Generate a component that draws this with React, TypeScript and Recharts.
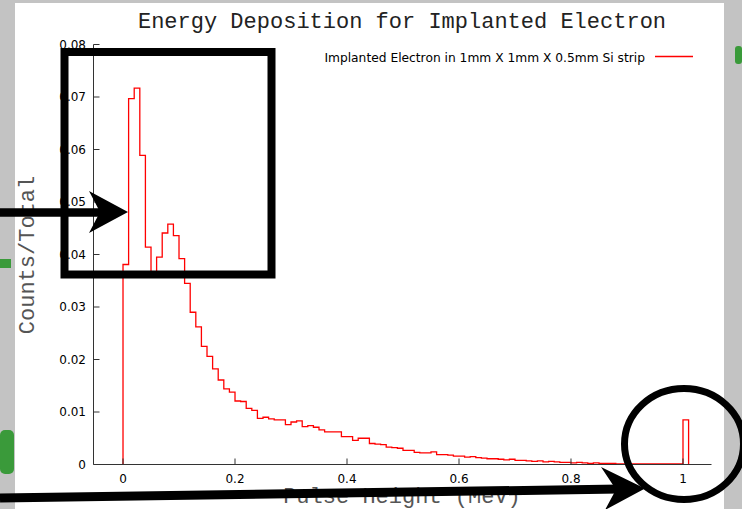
import { LineChart, Line, XAxis, YAxis } from 'recharts'

// energy bins are 0.01 MeV wide, value i belongs to [i*0.01, (i+1)*0.01)
const BIN_WIDTH = 0.01

const countsPerTotal = [
  0.0381, 0.0697, 0.0717, 0.0589, 0.0414, 0.0362, 0.0395, 0.0441, 0.0458, 0.0436,
  0.0392, 0.0345, 0.029, 0.0262, 0.0225, 0.0206, 0.0182, 0.0161, 0.0144, 0.0138,
  0.0121, 0.012, 0.0107, 0.0103, 0.0088, 0.009, 0.0087, 0.0085, 0.0085, 0.0076,
  0.0081, 0.0083, 0.0072, 0.0074, 0.0071, 0.0066, 0.0062, 0.0062, 0.0062, 0.0053,
  0.0053, 0.0046, 0.005, 0.005, 0.004, 0.0039, 0.0038, 0.0033, 0.0032, 0.0031,
  0.0027, 0.0027, 0.0023, 0.0022, 0.0022, 0.0024, 0.0019, 0.0019, 0.0018, 0.0016,
  0.0016, 0.0014, 0.0015, 0.0013, 0.0012, 0.0011, 0.0011, 0.001, 0.0009, 0.001,
  0.0008, 0.0008, 0.0007, 0.0006, 0.0007, 0.0005, 0.0006, 0.0005, 0.0004, 0.0004,
  0.0003, 0.0004, 0.0003, 0.0002, 0.0003, 0.0002, 0.0002, 0.0002, 0.0001, 0.0001,
  0.0001, 0.0001, 0.0001, 0.0001, 0.0001, 0.0001, 0.0001, 0.0001, 0.0001, 0.0001,
  0.0085,
]

const xTicks = [0, 0.2, 0.4, 0.6, 0.8, 1]
const yTicks = [0, 0.01, 0.02, 0.03, 0.04, 0.05, 0.06, 0.07, 0.08]

const title = 'Energy Deposition for Implanted Electron'
const xLabel = 'Pulse Height (MeV)'
const yLabel = 'Counts/Total'
const seriesName = 'Implanted Electron in 1mm X 1mm X 0.5mm Si strip'

// step line: start at 0, one point per bin edge, drop back to 0 after the last bin
const histogram = [
  { e: 0, v: 0 },
  ...countsPerTotal.map((v, i) => ({ e: +(i * BIN_WIDTH).toFixed(2), v })),
  { e: +(countsPerTotal.length * BIN_WIDTH).toFixed(2), v: 0 },
]

const FRAME = '#333'
const TICK = 6
const tickText = { fontFamily: '"DejaVu Sans", sans-serif', fontSize: 12, fill: '#000' }
const monoText = { fontFamily: '"Liberation Mono", monospace', fontSize: 22 }

// gnuplot style: ticks point into the plot on every side
// eslint-disable-next-line @typescript-eslint/no-explicit-any
function BottomTick({ x, y, payload }: any) {
  return (
    <g>
      <line x1={x} y1={y} x2={x} y2={y - TICK} stroke={FRAME} />
      <text x={x} y={y + 18.5} textAnchor="middle" {...tickText}>{String(payload.value)}</text>
    </g>
  )
}

// eslint-disable-next-line @typescript-eslint/no-explicit-any
function TopTick({ x, y }: any) {
  return <line x1={x} y1={y} x2={x} y2={y + TICK} stroke={FRAME} />
}

// eslint-disable-next-line @typescript-eslint/no-explicit-any
function LeftTick({ x, y, payload }: any) {
  return (
    <g>
      <line x1={x} y1={y} x2={x + TICK} y2={y} stroke={FRAME} />
      <text x={x - 7.5} y={y + 4.3} textAnchor="end" {...tickText}>{String(payload.value)}</text>
    </g>
  )
}

// eslint-disable-next-line @typescript-eslint/no-explicit-any
function RightTick({ x, y }: any) {
  return <line x1={x} y1={y} x2={x - TICK} y2={y} stroke={FRAME} />
}

export default function App() {
  const xDomain = [-0.0527, 1.0509]
  return (
    <div style={{ position: 'absolute', left: 0, top: 0, width: 742, height: 509, background: '#c3c3c3', overflow: 'hidden' }}>
      <div style={{ position: 'absolute', left: 15, top: 3, width: 709, height: 506, background: '#fff' }} />
      <div style={{ position: 'absolute', left: 0, top: 0 }}>
        <LineChart width={742} height={509} data={histogram} margin={{ top: 44.5, right: 30.5, bottom: 0, left: 0 }}>
          <XAxis
            dataKey="e"
            type="number"
            domain={xDomain}
            ticks={xTicks}
            interval={0}
            height={44.5}
            tickSize={0}
            tickMargin={0}
            tickLine={false}
            axisLine={{ stroke: FRAME }}
            tick={<BottomTick />}
          />
          <XAxis
            xAxisId="top"
            orientation="top"
            dataKey="e"
            type="number"
            domain={xDomain}
            ticks={xTicks}
            interval={0}
            height={0}
            tickSize={0}
            tickMargin={0}
            tickLine={false}
            axisLine={{ stroke: FRAME }}
            tick={<TopTick />}
          />
          <YAxis
            type="number"
            domain={[0, 0.08]}
            ticks={yTicks}
            interval={0}
            width={93.5}
            tickSize={0}
            tickMargin={0}
            tickLine={false}
            axisLine={{ stroke: FRAME }}
            tick={<LeftTick />}
          />
          <YAxis
            yAxisId="right"
            orientation="right"
            type="number"
            domain={[0, 0.08]}
            ticks={yTicks}
            interval={0}
            width={0}
            tickSize={0}
            tickMargin={0}
            tickLine={false}
            axisLine={{ stroke: FRAME }}
            tick={<RightTick />}
          />
          <Line
            type="stepAfter"
            dataKey="v"
            stroke="#ff0000"
            strokeWidth={1.3}
            dot={false}
            activeDot={false}
            isAnimationActive={false}
          />
        </LineChart>
      </div>

      <svg width={742} height={509} style={{ position: 'absolute', left: 0, top: 0, pointerEvents: 'none' }}>
        <text x={402} y={28} textAnchor="middle" fill="#222" {...monoText}>{title}</text>
        <text transform="translate(34,255) rotate(-90)" textAnchor="middle" fill="#555" {...monoText}>{yLabel}</text>
        <text x={402} y={503} textAnchor="middle" fill="#555" {...monoText}>{xLabel}</text>

        <text x={645} y={61.5} textAnchor="end" {...tickText} fontSize={12.25}>{seriesName}</text>
        <line x1={655} y1={56.5} x2={693} y2={56.5} stroke="#ff0000" strokeWidth={1.3} />

        {/* hand-drawn markup over the screenshot */}
        <rect x={0} y={259} width={11} height={9} fill="#3a9a3a" />
        <rect x={0} y={430} width={14} height={44} rx={5} fill="#3a9a3a" />
        <rect x={735} y={46} width={7} height={18} rx={3} fill="#3a9a3a" />

        <rect x={64.5} y={52} width={207} height={222.5} fill="none" stroke="#000" strokeWidth={8} />
        <line x1={0} y1={212.5} x2={102} y2={212.5} stroke="#000" strokeWidth={8.5} />
        <polygon points="128,212 89,191 100,212 89,233" fill="#000" />

        <line x1={0} y1={498} x2={620} y2={489} stroke="#000" strokeWidth={9} />
        <polygon points="645,488.5 601,467 616,489.5 605,510" fill="#000" />
        <ellipse cx={684} cy={444} rx={59.5} ry={55.5} fill="none" stroke="#000" strokeWidth={7} />
      </svg>
    </div>
  )
}
